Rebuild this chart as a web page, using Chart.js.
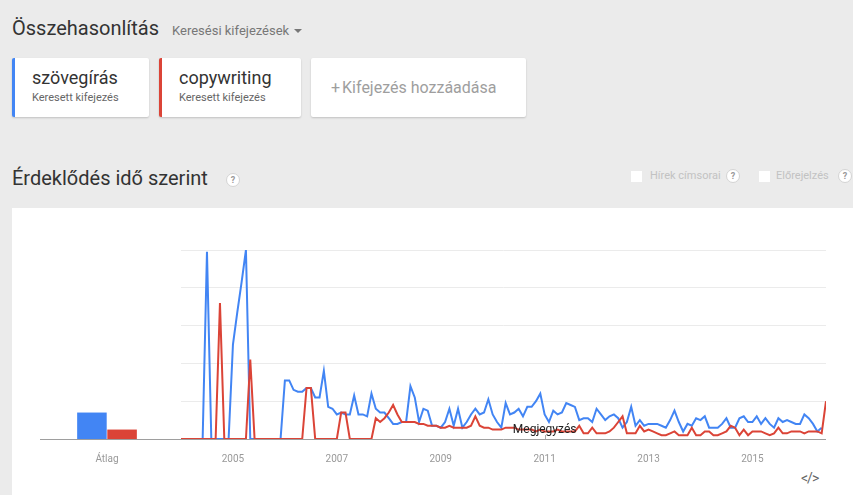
<!DOCTYPE html>
<html lang="hu">
<head>
<meta charset="UTF-8">
<title>Érdeklődés idő szerint</title>
<script src="https://cdn.jsdelivr.net/npm/chart.js"></script>
<style>
  body { margin: 0; width: 853px; height: 495px; overflow: hidden; background: #ebebeb; font-family: Roboto, sans-serif; position: relative; }
  .abs { position: absolute; white-space: nowrap; }
  .h1 { font-size: 20px; line-height: 20px; color: #333; }
  .card { position: absolute; top: 58px; height: 59px; background: #fff; border-radius: 2px; box-shadow: 0 1px 2px rgba(0,0,0,0.18); box-sizing: border-box; }
  .card .term { position: absolute; left: 17px; top: 11px; font-size: 18px; line-height: 18px; color: #333; }
  .card .sub { position: absolute; left: 17px; top: 34px; font-size: 11px; line-height: 11px; color: #666; }
  .help { position: absolute; width: 12px; height: 12px; border: 1px solid #d4d4d4; border-radius: 50%; background: #fff; color: #999; font-size: 9px; line-height: 12px; text-align: center; font-weight: bold; }
  .chk { position: absolute; width: 11px; height: 11px; background: #fff; }
  .opt { font-size: 11px; line-height: 12px; color: #c2c2c2; }
  #panel { position: absolute; left: 12px; top: 208px; right: 0; bottom: 0; background: #fff; }
</style>
</head>
<body>
<div class="abs h1" style="left:12px;top:18px">Összehasonlítás</div>
<div class="abs" style="left:172px;top:24px;font-size:13px;line-height:13px;color:#777">Keresési kifejezések</div>
<div class="abs" style="left:294px;top:29px;width:0;height:0;border-left:4px solid transparent;border-right:4px solid transparent;border-top:4px solid #777"></div>

<div class="card" style="left:12px;width:137px;border-left:3px solid #4285f4">
  <div class="term">szövegírás</div>
  <div class="sub">Keresett kifejezés</div>
</div>
<div class="card" style="left:159px;width:142px;border-left:3px solid #db4437">
  <div class="term">copywriting</div>
  <div class="sub">Keresett kifejezés</div>
</div>
<div class="card" style="left:311px;width:215px">
  <div class="abs" style="left:20px;top:22px;font-size:16px;line-height:16px;color:#9e9e9e"><span style="margin-right:2px">+</span>Kifejezés hozzáadása</div>
</div>

<div class="abs h1" style="left:12px;top:168px">Érdeklődés idő szerint</div>
<div class="help" style="left:226px;top:173px">?</div>

<div class="chk" style="left:631px;top:171px"></div>
<div class="abs opt" style="left:650px;top:170px">Hírek címsorai</div>
<div class="help" style="left:726px;top:169px">?</div>
<div class="chk" style="left:759px;top:171px"></div>
<div class="abs opt" style="left:776px;top:170px">Előrejelzés</div>
<div class="help" style="left:838px;top:169px">?</div>

<div id="panel"></div>
<div class="abs" style="left:40px;top:240px;width:134px;height:230px"><canvas id="avgChart" width="134" height="230"></canvas></div>
<div class="abs" style="left:174px;top:240px;width:679px;height:230px"><canvas id="trendChart" width="679" height="230"></canvas></div>
<div class="abs" style="left:801px;top:471px;font-size:14px;line-height:14px;color:#666;letter-spacing:-1px">&lt;/&gt;</div>

<script>
  // havi értékek 2004 jan - 2016 jún (0-100)
  const szovegiras = [
    0, 0, 0, 0, 0, 0, 99, 0, 0, 0, 0, 0,
    50, 67, 83, 100, 0, 0, 0, 0, 0, 0, 0, 0,
    31, 31, 26, 25, 25, 27, 27, 22, 22, 36, 17, 16,
    13, 14, 13, 13, 23, 13, 13, 12, 24, 16, 14, 14,
    11, 8, 8, 9, 9, 28, 22, 9, 16, 15, 7, 7,
    6, 9, 16, 7, 16, 6, 9, 13, 16, 13, 14, 21,
    13, 9, 6, 19, 13, 14, 16, 12, 17, 17, 20, 24,
    13, 9, 15, 13, 14, 19, 18, 17, 10, 11, 11, 9,
    16, 13, 10, 12, 13, 11, 6, 9, 17, 7, 10, 7,
    8, 8, 8, 7, 6, 10, 15, 9, 4, 8, 7, 11,
    10, 12, 6, 6, 6, 8, 11, 6, 6, 11, 12, 9,
    9, 12, 8, 11, 8, 6, 11, 9, 10, 9, 8, 8,
    13, 11, 8, 4, 6, null
  ];
  const copywriting = [
    0, 0, 0, 0, 0, 0, 0, 0, 0, 72, 0, 0,
    0, 0, 0, 0, 42, 0, 0, 0, 0, 0, 0, 0,
    0, 0, 0, 0, 0, 27, 27, 0, 0, 0, 0, 0,
    0, 14, 14, 0, 0, 0, 0, 0, 0, 11, 9, 11,
    14, 18, 13, 9, 9, 9, 9, 8, 8, 7, 7, 7,
    6, 6, 7, 6, 6, 6, 6, 7, 12, 7, 6, 6,
    5, 5, 5, 6, 6, 6, 5, 5, 5, 5, 4, 5,
    4, 4, 4, 5, 4, 4, 4, 4, 7, 3, 3, 6,
    3, 3, 3, 4, 6, 9, 12, 3, 3, 3, 7, 4,
    5, 4, 3, 2, 2, 3, 4, 2, 2, 2, 6, 2,
    2, 4, 4, 2, 2, 3, 4, 7, 6, 2, 5, 2,
    4, 4, 4, 3, 2, 3, 6, 3, 3, 4, 4, 4,
    3, 4, 4, 4, 3, 20
  ];
  const atlag = [14, 5];
  const atlagLabel = ['Átlag'];
  const yearTickAt = [12, 36, 60, 84, 108, 132];
  const yearLabels = ['2005', '2007', '2009', '2011', '2013', '2015'];
  const noteAt = [84];
  const noteText = ['Megjegyzés'];

  const BLUE = '#4285f4';
  const RED = '#db4437';
  const AXIS = '#9e9e9e';

  // átlag oszlopok
  new Chart(document.getElementById('avgChart'), {
    type: 'bar',
    data: {
      labels: atlagLabel,
      datasets: [
        { data: [atlag[0]], backgroundColor: BLUE, barPercentage: 0.98, categoryPercentage: 0.45 },
        { data: [atlag[1]], backgroundColor: RED, barPercentage: 0.98, categoryPercentage: 0.45 }
      ]
    },
    options: {
      responsive: false,
      animation: false,
      layout: { padding: { top: 10 } },
      plugins: { legend: { display: false }, tooltip: { enabled: false } },
      scales: {
        x: {
          grid: { display: false },
          border: { color: AXIS, width: 1 },
          ticks: { color: '#999', font: { family: 'Roboto', size: 10 }, padding: 6 },
          afterFit: s => { s.height = 31; }
        },
        y: { display: false, min: 0, max: 100 }
      }
    }
  });

  const notePlugin = {
    id: 'notes',
    afterDatasetsDraw(chart) {
      const { ctx, chartArea, scales } = chart;
      ctx.save();
      noteAt.forEach((at, k) => {
        const x = scales.x.getPixelForValue(at);
        ctx.strokeStyle = '#aaa';
        ctx.lineWidth = 1;
        ctx.beginPath();
        ctx.moveTo(Math.round(x) + 0.5, chartArea.bottom - 4);
        ctx.lineTo(Math.round(x) + 0.5, chartArea.bottom);
        ctx.stroke();
        ctx.fillStyle = '#222';
        ctx.font = '12px Roboto';
        ctx.textAlign = 'center';
        ctx.fillText(noteText[k], x, chartArea.bottom - 6);
      });
      ctx.restore();
    }
  };

  new Chart(document.getElementById('trendChart'), {
    type: 'line',
    data: {
      datasets: [
        { label: 'szövegírás', data: szovegiras.map((v, i) => ({ x: i, y: v })), borderColor: BLUE, order: 1 },
        { label: 'copywriting', data: copywriting.map((v, i) => ({ x: i, y: v })), borderColor: RED, order: 0 }
      ]
    },
    options: {
      responsive: false,
      animation: false,
      layout: { padding: { top: 10, right: 27 } },
      elements: { point: { radius: 0 }, line: { borderWidth: 2, tension: 0 } },
      plugins: { legend: { display: false }, tooltip: { enabled: false } },
      scales: {
        x: {
          type: 'linear',
          min: 0,
          max: szovegiras.length - 1,
          grid: { display: false },
          border: { display: false },
          afterBuildTicks: s => { s.ticks = yearTickAt.map(v => ({ value: v })); },
          ticks: {
            color: '#999',
            font: { family: 'Roboto', size: 10 },
            padding: 6,
            maxRotation: 0,
            callback: v => yearLabels[yearTickAt.indexOf(v)]
          },
          afterFit: s => { s.height = 31; }
        },
        y: {
          min: 0,
          max: 100,
          border: { display: false },
          grid: {
            color: c => c.tick.value === 0 ? AXIS : '#ebebeb',
            tickColor: c => c.tick.value === 0 ? AXIS : 'rgba(0,0,0,0)',
            tickLength: 7,
            drawTicks: true
          },
          ticks: { stepSize: 20, display: false },
          afterFit: s => { s.width = 7; }
        }
      }
    },
    plugins: [notePlugin]
  });
</script>
</body>
</html>
